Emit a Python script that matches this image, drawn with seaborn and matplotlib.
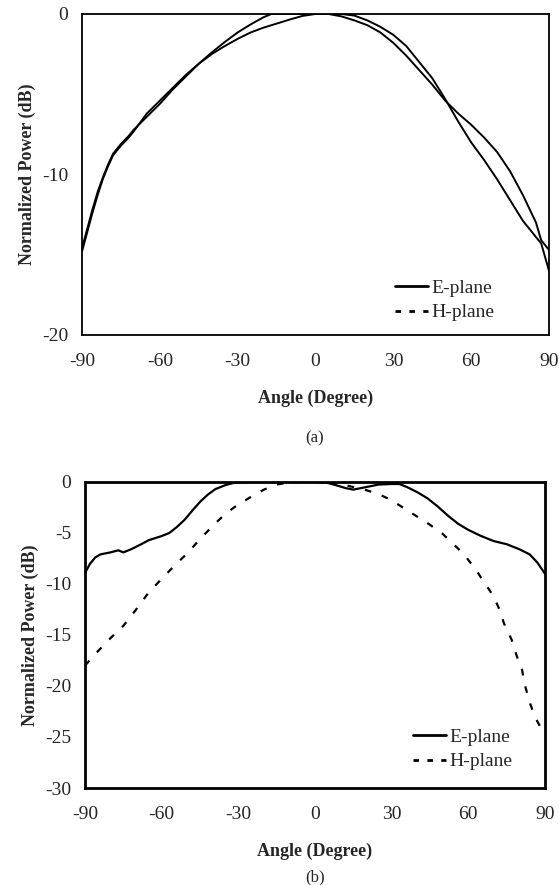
import numpy as np
import pandas as pd
import matplotlib
matplotlib.use("Agg")
import matplotlib.pyplot as plt
from matplotlib.lines import Line2D
from matplotlib.ticker import MultipleLocator
import seaborn as sns

# ============================
# Data
# ============================
# (a) both curves drawn solid in the original
ang_a_e = [-90, -88, -86, -84, -82, -80, -78, -75, -72, -70, -65, -60, -55, -50, -45, -40,
           -35, -30, -25, -20, -17, -10, -5, 0, 5, 10, 15, 20, 25, 30, 35, 40, 45, 50, 55,
           60, 65, 70, 75, 80, 85, 87, 90]
pow_a_e = [-14.6, -13.4, -12.2, -11.1, -10.2, -9.4, -8.7, -8.1, -7.6, -7.2, -6.4, -5.6, -4.7,
           -3.9, -3.1, -2.4, -1.75, -1.15, -0.65, -0.2, 0.0, 0.0, 0.0, 0.0, 0.0, -0.15, -0.4,
           -0.7, -1.15, -1.8, -2.6, -3.5, -4.4, -5.4, -6.2, -6.9, -7.7, -8.6, -9.8, -11.3,
           -13.0, -14.1, -14.7]

ang_a_h = [-90, -88, -86, -84, -82, -80, -78, -75, -72, -70, -65, -60, -55, -50, -45, -40,
           -35, -30, -25, -20, -15, -10, -5, 0, 5, 10, 15, 20, 25, 30, 35, 40, 45, 50, 55,
           60, 65, 70, 75, 80, 85, 87, 90]
pow_a_h = [-14.8, -13.6, -12.4, -11.3, -10.3, -9.5, -8.8, -8.2, -7.7, -7.3, -6.2, -5.4, -4.6,
           -3.8, -3.1, -2.5, -2.0, -1.55, -1.15, -0.85, -0.6, -0.35, -0.12, 0.0, 0.0, 0.0,
           -0.1, -0.4, -0.8, -1.3, -2.0, -3.0, -4.0, -5.3, -6.7, -8.0, -9.1, -10.3, -11.6,
           -12.9, -13.9, -14.3, -16.0]

# (b)
ang_b_e = [-90, -88, -86, -84, -80, -77, -75, -72, -68, -65, -60, -57, -54, -51, -48, -45,
           -42, -39, -35, -32, -25, -15, -5, 0, 5, 8, 12, 15, 18, 21, 25, 30, 33, 36, 40, 44,
           48, 52, 56, 60, 65, 70, 75, 80, 84, 87, 90]
pow_b_e = [-8.9, -8.0, -7.4, -7.1, -6.9, -6.7, -6.9, -6.6, -6.1, -5.7, -5.3, -5.0, -4.4,
           -3.7, -2.8, -1.95, -1.25, -0.7, -0.3, -0.1, 0.0, 0.0, 0.0, 0.0, -0.1, -0.3, -0.6,
           -0.75, -0.6, -0.45, -0.25, -0.2, -0.2, -0.5, -1.0, -1.6, -2.4, -3.3, -4.1, -4.7,
           -5.3, -5.8, -6.1, -6.6, -7.1, -7.9, -9.0]

ang_b_h = [-90, -85, -80, -75, -70, -65, -60, -55, -50, -45, -40, -35, -30, -25, -20, -15,
           -10, -5, 0, 5, 10, 15, 20, 25, 30, 35, 40, 45, 50, 55, 58, 62, 64, 66, 68, 70, 72,
           74, 77, 79, 81, 82, 84, 86, 89, 90]
pow_b_h = [-18.0, -16.6, -15.3, -14.1, -12.5, -10.8, -9.5, -8.2, -7.0, -5.6, -4.3, -3.1,
           -2.2, -1.45, -0.75, -0.25, -0.05, 0.0, 0.0, 0.0, -0.2, -0.5, -0.8, -1.2, -1.8,
           -2.6, -3.4, -4.2, -5.1, -6.3, -7.0, -8.3, -9.0, -9.8, -10.5, -11.3, -12.4, -13.9,
           -15.5, -17.1, -18.4, -19.8, -21.6, -23.0, -24.4, -24.8]

x_ticks = [-90, -60, -30, 0, 30, 60, 90]
legend_labels = ["E-plane", "H-plane"]


def long_df(ae, pe, ah, ph):
    d1 = pd.DataFrame({"angle": ae, "power": pe, "plane": "E-plane"})
    d2 = pd.DataFrame({"angle": ah, "power": ph, "plane": "H-plane"})
    return pd.concat([d1, d2], ignore_index=True)


df_a = long_df(ang_a_e, pow_a_e, ang_a_h, pow_a_h)
df_b = long_df(ang_b_e, pow_b_e, ang_b_h, pow_b_h)

# ============================
# Style
# ============================
sns.set_style("white")
plt.rcParams["font.family"] = ["Liberation Serif", "DejaVu Serif"]
plt.rcParams["axes.unicode_minus"] = False
plt.rcParams["xtick.direction"] = "in"
plt.rcParams["ytick.direction"] = "in"

fig = plt.figure(figsize=(5.59, 8.85), dpi=100)
ax_a = fig.add_axes([0.1467, 0.6215, 0.8354, 0.3627])
ax_b = fig.add_axes([0.1521, 0.1096, 0.8229, 0.3458])


def style_axes(ax, ymin, ystep, yminor, lw, leg_anchor):
    ax.set_xlim(-90, 90)
    ax.set_ylim(ymin, 0)
    ax.set_xticks(x_ticks)
    ax.set_xticklabels([str(t) for t in x_ticks])
    ax.xaxis.set_minor_locator(MultipleLocator(10))
    ax.yaxis.set_major_locator(MultipleLocator(ystep))
    ax.yaxis.set_minor_locator(MultipleLocator(yminor))
    ax.tick_params(axis="both", which="major", labelsize=14, length=5, width=1.2,
                   top=False, right=False)
    ax.tick_params(axis="x", which="major", pad=13)
    ax.tick_params(axis="y", which="major", pad=10)
    ax.tick_params(axis="both", which="minor", length=3.5, width=1.2, top=False, right=False)
    ax.set_xlabel("Angle (Degree)", fontsize=13, fontweight="bold", labelpad=14)
    ax.set_ylabel("Normalized Power (dB)", fontsize=13, fontweight="bold", labelpad=4)
    for s in ax.spines.values():
        s.set_linewidth(lw)
        s.set_color("black")
    handles = [Line2D([], [], color="black", lw=2.0),
               Line2D([], [], color="black", lw=2.0, dashes=(2, 3))]
    ax.legend(handles, legend_labels, loc="lower right", frameon=False, fontsize=14,
              handlelength=1.7, handletextpad=0.15, labelspacing=0.35, borderpad=0,
              bbox_to_anchor=leg_anchor)


# ============================
# (a)
# ============================
sns.lineplot(data=df_a, x="angle", y="power", hue="plane", style="plane",
             palette={"E-plane": "black", "H-plane": "black"},
             dashes={"E-plane": "", "H-plane": ""},
             linewidth=1.4, legend=False, sort=False, ax=ax_a)
style_axes(ax_a, -20, 10, 2, 1.3, (0.903, 0.012))
fig.text(0.5635, 1 - 438 / 885, "(a)", ha="center", va="center", fontsize=12)

# ============================
# (b)
# ============================
sns.lineplot(data=df_b, x="angle", y="power", hue="plane", style="plane",
             palette={"E-plane": "black", "H-plane": "black"},
             dashes={"E-plane": "", "H-plane": (3, 5)},
             linewidth=1.6, legend=False, sort=False, ax=ax_b)
style_axes(ax_b, -30, 5, 2.5, 2.0, (0.95, 0.026))
fig.text(0.5635, 1 - 877 / 885, "(b)", ha="center", va="center", fontsize=12)

fig.savefig("out.png", dpi=100)
